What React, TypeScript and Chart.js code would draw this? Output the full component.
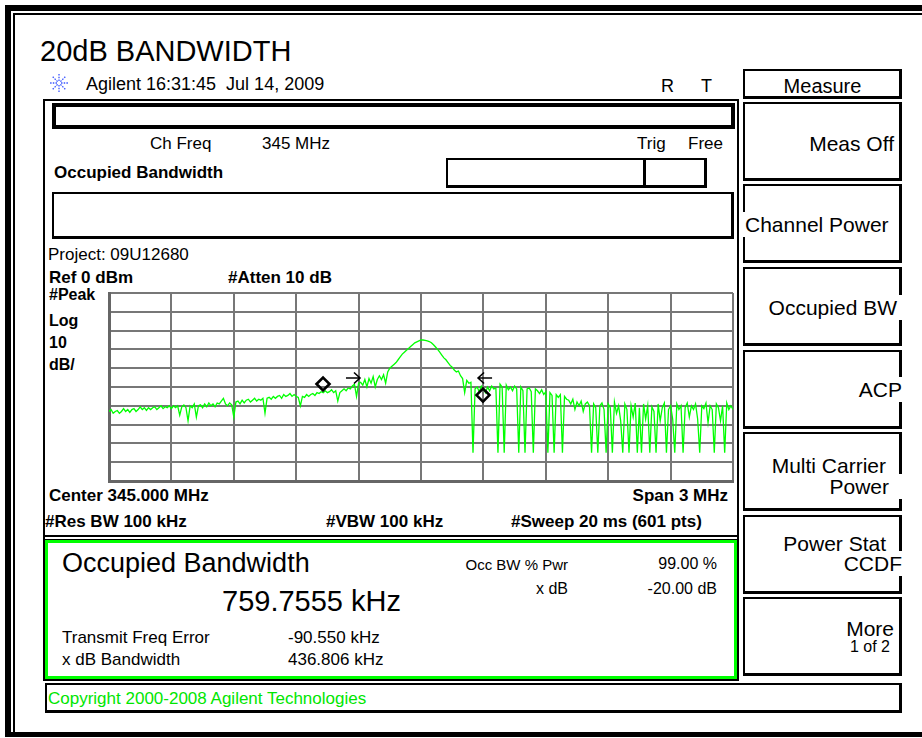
import React, { useEffect, useRef } from "react";
import { Chart, registerables } from "chart.js";

Chart.register(...registerables);

// ---- Sweep / axis setup (Center 345.000 MHz, Span 3 MHz) ----
const SWEEP_START_KHZ = -1500; // offset from center
const SWEEP_STOP_KHZ = 1500;
const SWEEP_STEP_KHZ = 10;
const FREQ_DIV_KHZ = 300;
const REF_LEVEL_DBM = 0;
const BOTTOM_LEVEL_DBM = -100;
const DB_PER_DIV = 10;

// ---- Trace levels (dBm), one per 10 kHz ----
const traceLevelsDbm = [
  -63, -62, -64, -63, -62.5, -64, -63, -61.5, -63, -62,
  -63.5, -62, -61.5, -63, -62, -60.5, -62, -61, -62.5, -61,
  -62, -61, -60.5, -62, -61, -60, -61.5, -60.5, -61, -60,
  -61.5, -60, -61, -60, -65, -60.5, -59.5, -61, -68, -60,
  -61, -59, -66, -60, -59.5, -61, -59, -60.5, -58.5, -60,
  -59, -60.5, -58.5, -59, -57.5, -56, -59, -60, -58.5, -59.5,
  -66, -58, -57.5, -59, -57, -58.5, -57, -56.5, -58, -57,
  -56, -57.5, -56.5, -57, -56, -64, -56, -55.5, -56.5, -55,
  -56, -55, -54.5, -56, -54, -55, -54.5, -53.5, -55, -54,
  -55, -55.5, -60, -55, -55.5, -54, -55, -54, -53.5, -54.5,
  -53, -53.5, -52.5, -53, -52, -53, -52.5, -51.5, -53, -52,
  -57.5, -53, -52, -51, -52, -50.5, -51, -49.5, -48.5, -55,
  -48, -47.5, -49, -46, -50, -45.5, -48, -44.5, -50, -46,
  -44, -46, -43.5, -48, -42, -40, -39, -38, -37, -35.5,
  -34, -32.5, -31.5, -30.5, -29.5, -28.5, -27.5, -26.5, -26, -25.5,
  -25, -25, -25.2, -25.5, -25.8, -26.5, -27.5, -28.7, -30, -31.5,
  -33, -34.5, -35.5, -37, -38.5, -39.5, -41, -42, -41.5, -44,
  -45.5, -53, -46.5, -48, -47.5, -85, -51, -50, -52.5, -49.5,
  -51, -53, -50, -52, -49.5, -51, -50.5, -85, -48.5, -50,
  -85, -49, -51.5, -50, -52, -49.5, -51, -85, -50, -52,
  -85, -51, -50.5, -52.5, -85, -51, -52, -53.5, -51.5, -54,
  -52.5, -85, -53, -54.5, -85, -54, -55.5, -54, -85, -55,
  -56.5, -57, -59, -56.5, -62, -58, -60, -57.5, -63, -59,
  -58, -60, -85, -59, -61, -85, -60, -58.5, -62, -85,
  -59, -61, -85, -58, -64, -60, -68, -85, -59, -62,
  -85, -60, -66, -58.5, -85, -61, -85, -59, -67, -60,
  -85, -60.5, -63, -85, -59, -68, -61, -58.5, -85, -62,
  -60, -67, -85, -59, -62, -60, -85, -61, -58.5, -66,
  -60, -62, -59, -67, -85, -60, -61.5, -58.5, -69, -60,
  -62, -85, -59, -61, -68, -60, -85, -58.5, -62, -60,
  -62,
];

// ---- Occupied-BW markers (diamonds) and x dB arrows ----
const markerFreqsKhz = [-471, 298];
const markerLevelsDbm = [-48.4, -54.3];
const arrowFreqsKhz = [-327, 308];
const arrowLevelsDbm = [-45.2, -45.2];
const arrowDirections = [1, -1];

// ---- Screen texts ----
const softkeyLabels = [
  ["Meas Off"],
  ["Channel Power"],
  ["Occupied BW"],
  ["ACP"],
  ["Multi Carrier", "Power"],
  ["Power Stat", "CCDF"],
  ["More", "1 of 2"],
];

const FONT = '"Liberation Sans", Arial, Helvetica, sans-serif';
const W = 922;

type TP = {
  x: number;
  b: number;
  s: number;
  t: string;
  bold?: boolean;
  right?: boolean;
  color?: string;
  bg?: boolean;
  padR?: number;
  padL?: number;
};

function Txt({ x, b, s, t, bold, right, color, bg, padR = 0, padL = 0 }: TP) {
  const style: React.CSSProperties = {
    position: "absolute",
    top: b - 0.8465 * s,
    fontSize: s,
    lineHeight: s + "px",
    height: s,
    fontFamily: FONT,
    fontWeight: bold ? 700 : 400,
    color: color || "#000",
    whiteSpace: "pre",
  };
  if (right) {
    style.right = W - x - padR;
    style.paddingRight = padR;
  } else {
    style.left = x - padL;
    style.paddingLeft = padL;
  }
  if (bg) {
    style.background = "#fff";
    style.paddingTop = 2;
    style.paddingBottom = 2;
    style.top = (style.top as number) - 2;
  }
  return <div style={style}>{t}</div>;
}

function Box({ x, y, w, h, bw = 2, bwr, extra }: { x: number; y: number; w: number; h: number; bw?: number; bwr?: number; extra?: React.CSSProperties }) {
  const r = bwr ?? bw;
  return (
    <div
      style={{
        position: "absolute",
        left: x,
        top: y,
        width: w,
        height: h,
        boxSizing: "border-box",
        borderLeft: `${bw}px solid #000`,
        borderTop: `${bw}px solid #000`,
        borderRight: `${r}px solid #000`,
        borderBottom: `${r}px solid #000`,
        ...extra,
      }}
    />
  );
}

const arrowPlugin = {
  id: "xdbArrows",
  afterDatasetsDraw(chart: any) {
    const { ctx, scales } = chart;
    const xs = scales.x;
    const ys = scales.y;
    ctx.save();
    ctx.strokeStyle = "#000";
    ctx.lineWidth = 1.6;
    arrowFreqsKhz.forEach((f, i) => {
      const px = xs.getPixelForValue(f);
      const py = ys.getPixelForValue(arrowLevelsDbm[i]);
      const d = arrowDirections[i];
      ctx.beginPath();
      ctx.moveTo(px - 7 * d, py);
      ctx.lineTo(px + 7 * d, py);
      ctx.moveTo(px + 1 * d, py - 5.5);
      ctx.lineTo(px + 7 * d, py);
      ctx.lineTo(px + 1 * d, py + 5.5);
      ctx.stroke();
    });
    ctx.restore();
  },
};

function Logo() {
  const lines = [];
  for (let k = 0; k < 8; k++) {
    const a = (k * Math.PI) / 4;
    lines.push(
      <line
        key={k}
        x1={10 + Math.cos(a) * 2}
        y1={10 + Math.sin(a) * 2}
        x2={10 + Math.cos(a) * 9}
        y2={10 + Math.sin(a) * 9}
        stroke="#3a55ff"
        strokeWidth={1.3}
        strokeDasharray="1.5 1.2"
      />
    );
  }
  return (
    <svg width={20} height={20} style={{ position: "absolute", left: 49, top: 73 }}>
      {lines}
    </svg>
  );
}

export default function App() {
  const ref = useRef<HTMLCanvasElement>(null);

  useEffect(() => {
    const tracePts = traceLevelsDbm.map((v, i) => ({ x: SWEEP_START_KHZ + i * SWEEP_STEP_KHZ, y: v }));
    const markerPts = markerFreqsKhz.map((f, i) => ({ x: f, y: markerLevelsDbm[i] }));
    const gridOpts = { color: "#777777", lineWidth: 2, drawTicks: false };
    const borderOpts = { display: true, color: "#666666", width: 3 };
    const chart = new Chart(ref.current as HTMLCanvasElement, {
      type: "line",
      data: {
        datasets: [
          {
            data: markerPts,
            showLine: false,
            pointStyle: "rectRot",
            pointRadius: 6.5,
            pointBorderWidth: 2.6,
            pointBorderColor: "#000",
            pointBackgroundColor: "rgba(0,0,0,0)",
            borderColor: "#000",
          },
          {
            data: tracePts,
            borderColor: "#00ff00",
            borderWidth: 1.3,
            pointRadius: 0,
            tension: 0,
          },
        ],
      },
      options: {
        responsive: false,
        animation: false,
        events: [],
        layout: { padding: 4, autoPadding: false },
        plugins: { legend: { display: false }, tooltip: { enabled: false } },
        scales: {
          x: {
            type: "linear",
            min: SWEEP_START_KHZ,
            max: SWEEP_STOP_KHZ,
            ticks: { display: false, stepSize: FREQ_DIV_KHZ },
            grid: gridOpts,
            border: borderOpts,
          },
          y: {
            type: "linear",
            min: BOTTOM_LEVEL_DBM,
            max: REF_LEVEL_DBM,
            ticks: { display: false, stepSize: DB_PER_DIV },
            grid: gridOpts,
            border: borderOpts,
          },
        },
      } as any,
      plugins: [arrowPlugin as any],
    });
    return () => chart.destroy();
  }, []);

  const keyTops = [102, 184, 267, 350, 432, 515, 597];

  return (
    <div
      style={{
        position: "absolute",
        left: 0,
        top: 0,
        width: W,
        height: 738,
        background: "#fff",
        overflow: "hidden",
        fontFamily: FONT,
      }}
    >
      {/* outer frame */}
      <div
        style={{
          position: "absolute",
          left: 5,
          top: 5,
          width: 940,
          height: 732,
          boxSizing: "border-box",
          borderLeft: "6px solid #000",
          borderTop: "6px solid #000",
          borderBottom: "5px solid #000",
        }}
      />
      <div
        style={{
          position: "absolute",
          left: 13,
          top: 13,
          width: 930,
          height: 720,
          boxSizing: "border-box",
          borderLeft: "2px solid #000",
          borderTop: "2px solid #000",
        }}
      />

      <Txt x={40} b={62} s={29} t="20dB BANDWIDTH" />
      <Logo />
      <Txt x={86} b={90} s={18} t={"Agilent 16:31:45  Jul 14, 2009"} />
      <Txt x={661} b={92} s={18} t="R" />
      <Txt x={701} b={92} s={18} t="T" />

      {/* Measure header */}
      <Box x={743} y={69} w={159} h={30} bw={2} bwr={3} />
      <div
        style={{
          position: "absolute",
          left: 743,
          width: 159,
          top: 93 - 0.8465 * 20,
          fontSize: 20,
          lineHeight: "20px",
          textAlign: "center",
          fontFamily: FONT,
        }}
      >
        Measure
      </div>

      {/* main display panel */}
      <Box x={43} y={99} w={696} h={582} bw={2} />
      <Box x={52} y={103} w={683} h={26} bw={4} />
      <Txt x={150} b={149} s={17} t="Ch Freq" />
      <Txt x={262} b={149} s={17} t="345 MHz" />
      <Txt x={637} b={149} s={17} t="Trig" />
      <Txt x={688} b={149} s={17} t="Free" />
      <Txt x={54} b={178} s={17} bold t="Occupied Bandwidth" />
      <Box x={446} y={158} w={261} h={30} bw={2} bwr={3} />
      <div style={{ position: "absolute", left: 643, top: 158, width: 3, height: 30, background: "#000" }} />
      <Box x={52} y={192} w={682} h={47} bw={2} bwr={3} />
      <Txt x={48} b={260} s={17} t="Project: 09U12680" />
      <Txt x={49} b={283} s={17} bold t="Ref 0 dBm" />
      <Txt x={228} b={283} s={17} bold t="#Atten 10 dB" />
      <Txt x={49} b={301} s={16} bold t="#Peak" />
      <Txt x={49} b={327} s={16} bold t="Log" />
      <Txt x={49} b={349} s={16} bold t="10" />
      <Txt x={49} b={371} s={16} bold t="dB/" />

      <canvas
        ref={ref}
        width={632}
        height={196}
        style={{ position: "absolute", left: 105, top: 289, width: 632, height: 196 }}
      />

      <Txt x={49} b={501} s={17} bold t="Center 345.000 MHz" />
      <Txt x={728} b={501} s={17} bold right t="Span 3 MHz" />
      <Txt x={45} b={527} s={17} bold t="#Res BW 100 kHz" />
      <Txt x={326} b={527} s={17} bold t="#VBW 100 kHz" />
      <Txt x={511} b={527} s={17} bold t="#Sweep 20 ms (601 pts)" />
      <div style={{ position: "absolute", left: 43, top: 535, width: 696, height: 2, background: "#000" }} />

      {/* result box */}
      <div
        style={{
          position: "absolute",
          left: 45,
          top: 540,
          width: 692,
          height: 139,
          boxSizing: "border-box",
          border: "3px solid #00ff00",
          outline: "1px solid #000",
        }}
      />
      <Txt x={62} b={573} s={27} t="Occupied Bandwidth" />
      <Txt x={222} b={612} s={29} t="759.7555 kHz" />
      <Txt x={568} b={570} s={15} right t="Occ BW % Pwr" />
      <Txt x={717} b={570} s={16} right t="99.00 %" />
      <Txt x={568} b={595} s={16} right t="x dB" />
      <Txt x={717} b={595} s={16} right t="-20.00 dB" />
      <Txt x={62} b={643} s={17} t="Transmit Freq Error" />
      <Txt x={288} b={643} s={17} t="-90.550 kHz" />
      <Txt x={62} b={665} s={17} t="x dB Bandwidth" />
      <Txt x={288} b={665} s={17} t="436.806 kHz" />

      {/* copyright bar */}
      <Box x={45} y={683} w={857} h={30} bw={2} bwr={3} />
      <Txt x={48} b={704} s={17} color="#00e600" t="Copyright 2000-2008 Agilent Technologies" />

      {/* softkeys */}
      {keyTops.map((t, k) => (
        <Box key={"k" + k} x={743} y={t} w={159} h={79} bw={2} bwr={3} />
      ))}
      <Txt x={894} b={151} s={21} right bg t={softkeyLabels[0][0]} />
      <Txt x={745} b={232} s={21} bg padL={4} t={softkeyLabels[1][0]} />
      <Txt x={897} b={315} s={21} right bg padR={7} t={softkeyLabels[2][0]} />
      <Txt x={902} b={397} s={21} right bg padR={2} t={softkeyLabels[3][0]} />
      <Txt x={886} b={473} s={21} right bg t={softkeyLabels[4][0]} />
      <Txt x={889} b={494} s={21} right bg padR={14} t={softkeyLabels[4][1]} />
      <Txt x={886} b={551} s={21} right bg t={softkeyLabels[5][0]} />
      <Txt x={902} b={571} s={21} right bg padR={2} t={softkeyLabels[5][1]} />
      <Txt x={894} b={636} s={21} right bg t={softkeyLabels[6][0]} />
      <Txt x={890} b={653} s={16} right bg t={softkeyLabels[6][1]} />
    </div>
  );
}
